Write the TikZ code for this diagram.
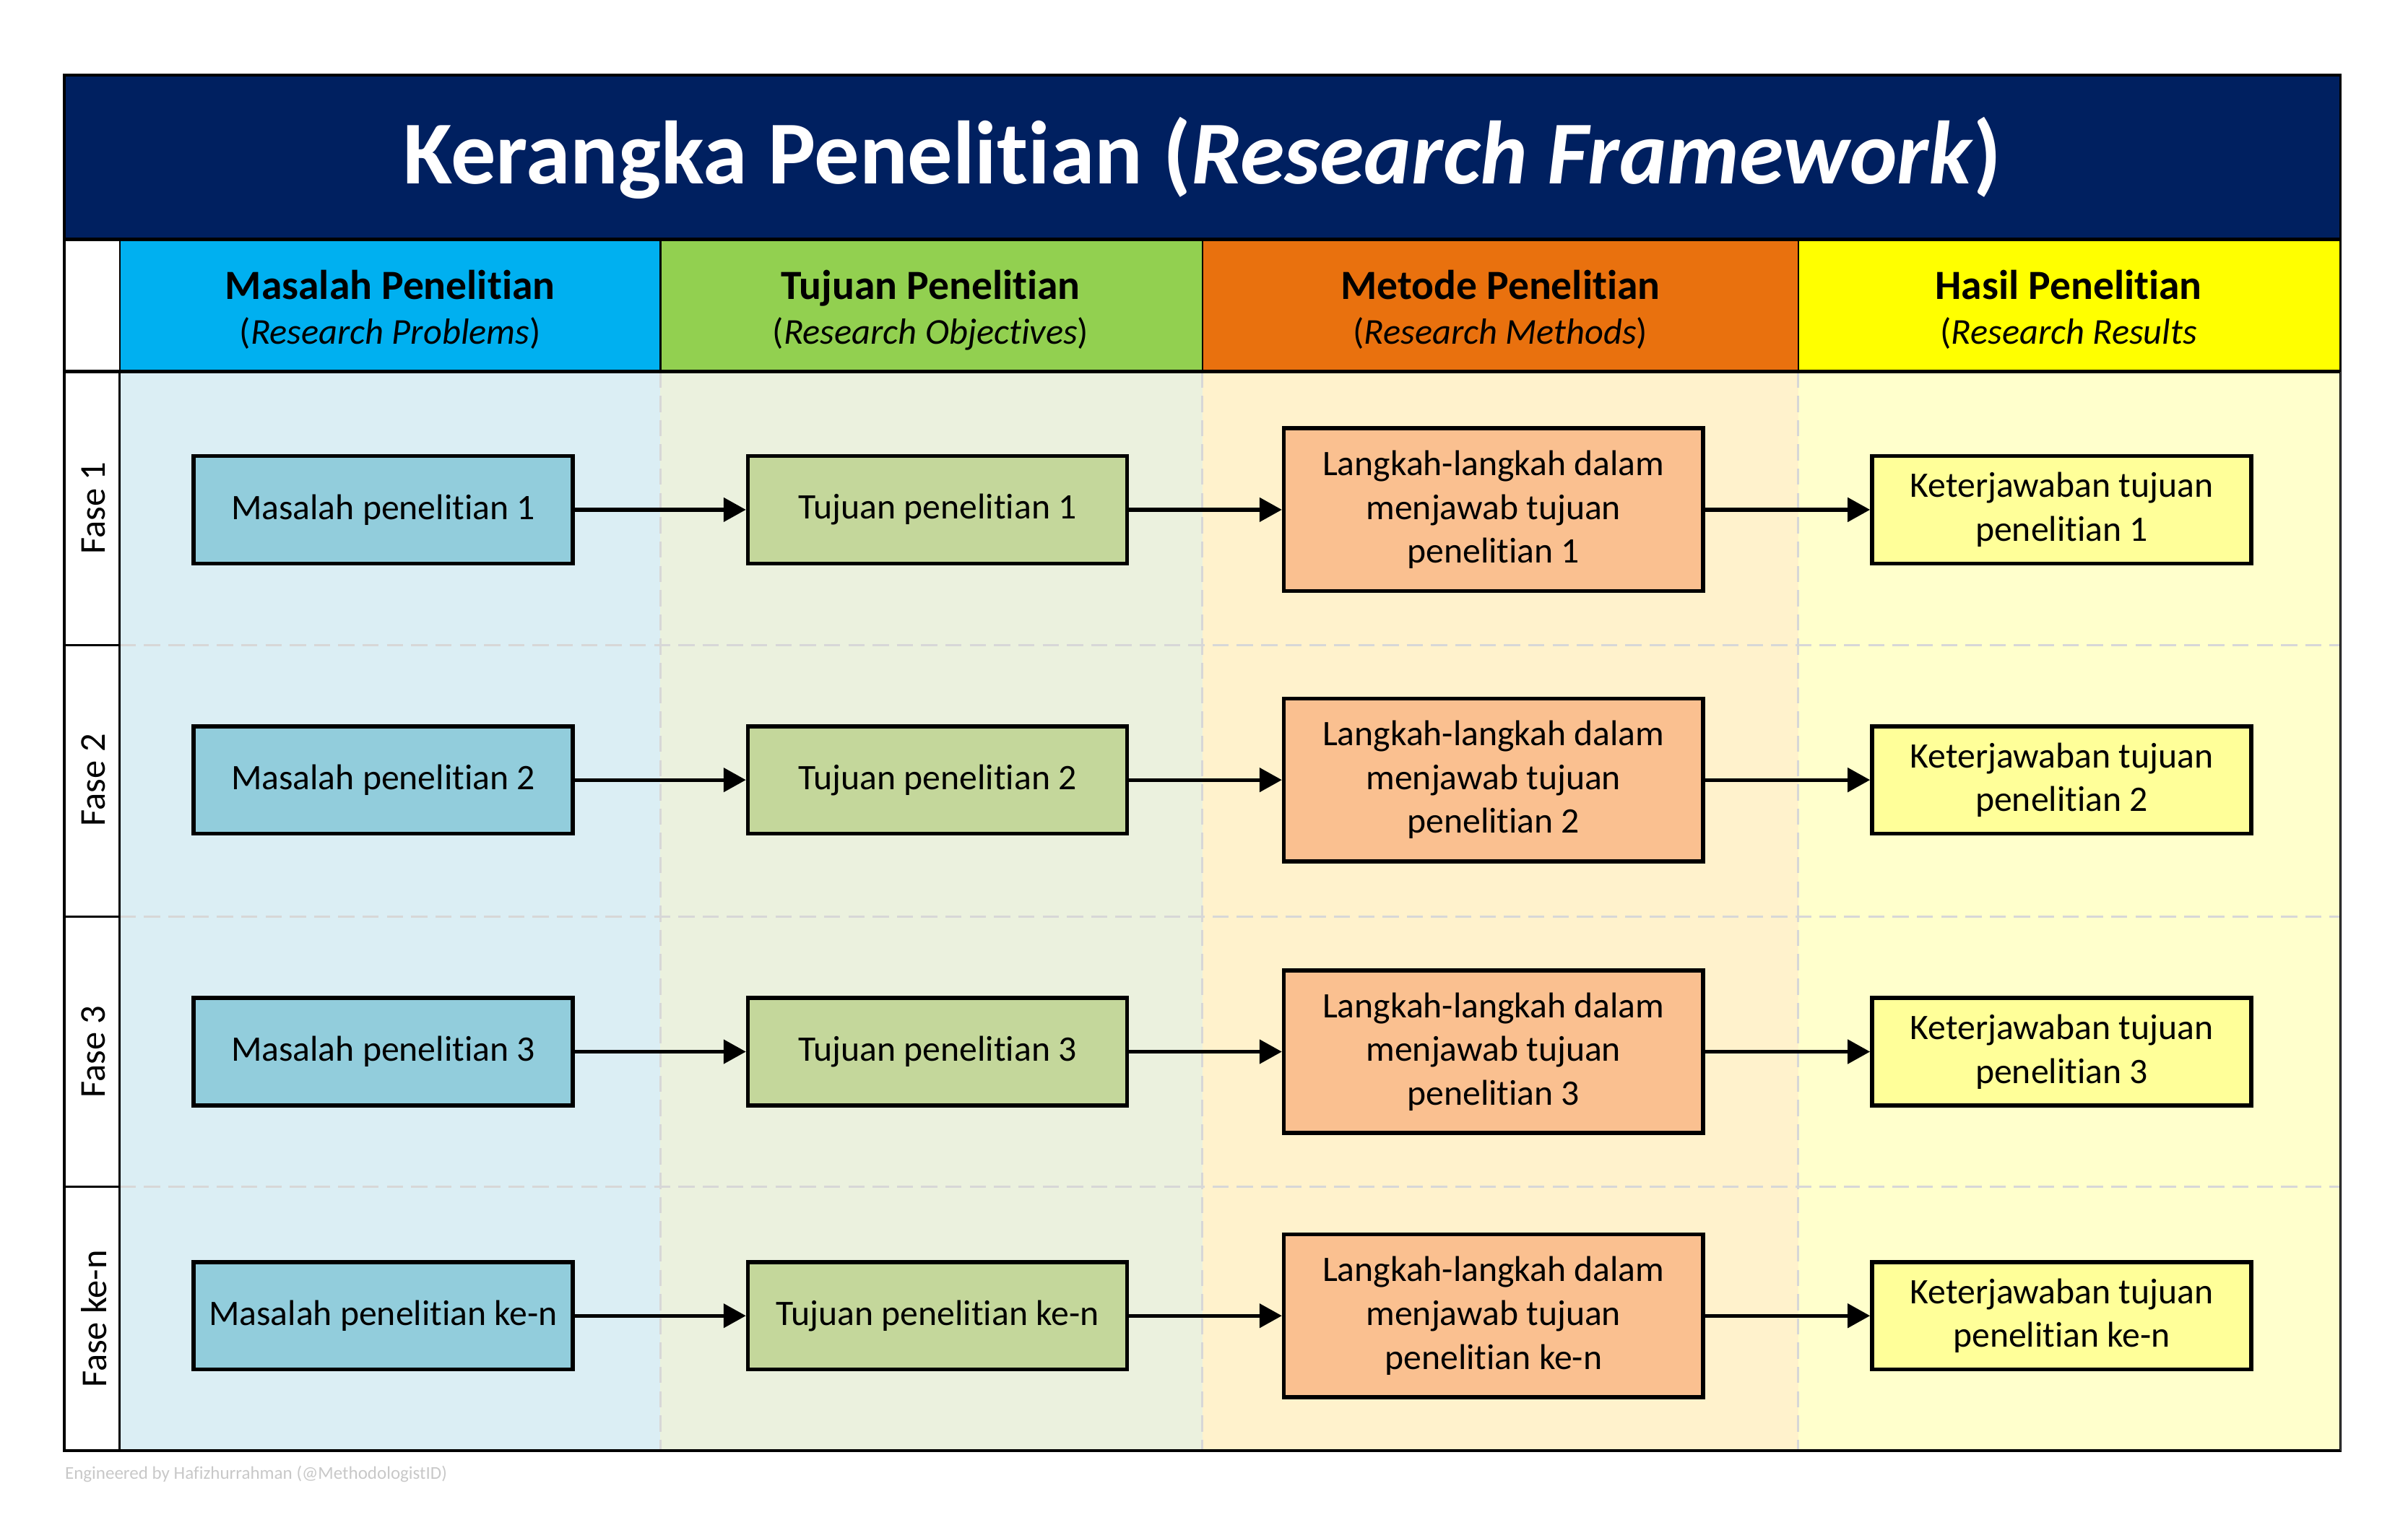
\documentclass[tikz,border=0pt]{standalone}
\usepackage{fontspec}
\setmainfont{Carlito}[Ligatures={NoCommon}]
\usepackage{xcolor}
\definecolor{fwnavy}{RGB}{0,32,96}
\definecolor{hdblue}{RGB}{0,176,240}
\definecolor{hdgreen}{RGB}{146,208,80}
\definecolor{hdorange}{RGB}{233,113,14}
\definecolor{hdyellow}{RGB}{255,255,0}
\definecolor{bgblue}{RGB}{219,238,244}
\definecolor{bggreen}{RGB}{235,241,222}
\definecolor{bgorange}{RGB}{255,242,204}
\definecolor{bgyellow}{RGB}{255,255,204}
\definecolor{bxblue}{RGB}{146,205,220}
\definecolor{bxgreen}{RGB}{196,215,155}
\definecolor{bxorange}{RGB}{250,192,144}
\definecolor{bxyellow}{RGB}{255,255,153}
\definecolor{fwgrid}{RGB}{215,215,215}
\definecolor{fwfoot}{RGB}{200,200,200}
\usetikzlibrary{arrows.meta,positioning}

\begin{document}
\begin{tikzpicture}[x=0.02cm, y=-0.02cm,
  box/.style={rectangle, draw=black, line width=1.5pt, minimum width=4.94cm,
              minimum height=1.4cm, align=center, inner sep=2pt,
              font=\fontsize{13.3}{16.2}\selectfont},
  stepbox/.style={box, minimum width=5.46cm, minimum height=2.12cm},
  hd/.style={anchor=base, font=\fontsize{15.4}{18}\selectfont\bfseries},
  hdsub/.style={anchor=base, font=\fontsize{13.5}{16}\selectfont},
  fase/.style={rotate=90, font=\fontsize{13.5}{16}\selectfont},
  grid/.style={draw=fwgrid, line width=0.8pt, dash pattern=on 6pt off 3pt},
  conn/.style={-{Triangle[length=8.3pt, width=8.8pt]}, line width=1.4pt, draw=black}
]
\useasboundingbox (0,0) rectangle (1568,993);

% column backgrounds
\fill[bgblue]   (78,242) rectangle (430,945);
\fill[bggreen]  (430,242) rectangle (783,945);
\fill[bgorange] (783,242) rectangle (1171,945);
\fill[bgyellow] (1171,242) rectangle (1524,945);

% row and column guides
\draw[grid] (78,420) -- (1524,420);
\draw[grid] (78,597) -- (1524,597);
\draw[grid] (78,773) -- (1524,773);
\draw[grid] (430,242) -- (430,945);
\draw[grid] (783,242) -- (783,945);
\draw[grid] (1171,242) -- (1171,945);

% title band
\fill[fwnavy] (42,49) rectangle (1524,156);
\node[text=white, font=\fontsize{33.3}{40}\selectfont\bfseries] (title) at (783,103)
  {Kerangka Penelitian (\textit{Research Framework})};

% header row
\fill[hdblue]   (78,156) rectangle (430,242);
\fill[hdgreen]  (430,156) rectangle (783,242);
\fill[hdorange] (783,156) rectangle (1171,242);
\fill[hdyellow] (1171,156) rectangle (1524,242);
\draw[line width=0.7pt] (78,156) -- (78,242);
\draw[line width=0.7pt] (430,156) -- (430,242);
\draw[line width=0.7pt] (783,156) -- (783,242);
\draw[line width=0.7pt] (1171,156) -- (1171,242);
\draw[line width=1.3pt] (42,156) -- (1524,156);
\draw[line width=1.3pt] (42,242) -- (1524,242);

\node[hd] (hmasalah) at (254,195) {Masalah Penelitian};
\node[hd] (htujuan)  at (606,195) {Tujuan Penelitian};
\node[hd] (hmetode)  at (977,195) {Metode Penelitian};
\node[hd] (hhasil)   at (1347,195) {Hasil Penelitian};
\node[hdsub] (smasalah) at (254,224) {(\textit{Research Problems})};
\node[hdsub] (stujuan)  at (606,224) {(\textit{Research Objectives})};
\node[hdsub] (smetode)  at (977,224) {(\textit{Research Methods})};
\node[hdsub] (shasil)   at (1347,224) {(\textit{Research Results}};

% phase column
\draw[line width=0.8pt] (42,242) -- (78,242) -- (78,945);
\draw[line width=0.8pt] (42,420) -- (78,420);
\draw[line width=0.8pt] (42,597) -- (78,597);
\draw[line width=0.8pt] (42,773) -- (78,773);
\node[fase] (fase1) at (61,331) {Fase 1};
\node[fase] (fase2) at (61,508) {Fase 2};
\node[fase] (fase3) at (61,685) {Fase 3};
\node[fase] (fasen) at (61,859) {Fase ke-n};

% outer frame
\draw[line width=1pt] (42,49) rectangle (1524,945);
\draw[line width=0.5pt, draw=black!70] (1524,242) -- (1524,945);

% row 1
\node[box, fill=bxblue]   (m1) at (249.5,332) {Masalah penelitian 1};
\node[box, fill=bxgreen]  (t1) at (610.5,332) {Tujuan penelitian 1};
\node[stepbox, fill=bxorange] (l1) at (972.5,332) {Langkah-langkah dalam\\menjawab tujuan\\penelitian 1};
\node[box, fill=bxyellow] (k1) at (1342.5,332) {Keterjawaban tujuan\\penelitian 1};
% row 2
\node[box, fill=bxblue]   (m2) at (249.5,508) {Masalah penelitian 2};
\node[box, fill=bxgreen]  (t2) at (610.5,508) {Tujuan penelitian 2};
\node[stepbox, fill=bxorange] (l2) at (972.5,508) {Langkah-langkah dalam\\menjawab tujuan\\penelitian 2};
\node[box, fill=bxyellow] (k2) at (1342.5,508) {Keterjawaban tujuan\\penelitian 2};
% row 3
\node[box, fill=bxblue]   (m3) at (249.5,685) {Masalah penelitian 3};
\node[box, fill=bxgreen]  (t3) at (610.5,685) {Tujuan penelitian 3};
\node[stepbox, fill=bxorange] (l3) at (972.5,685) {Langkah-langkah dalam\\menjawab tujuan\\penelitian 3};
\node[box, fill=bxyellow] (k3) at (1342.5,685) {Keterjawaban tujuan\\penelitian 3};
% row ke-n
\node[box, fill=bxblue]   (mn) at (249.5,857) {Masalah penelitian ke-n};
\node[box, fill=bxgreen]  (tn) at (610.5,857) {Tujuan penelitian ke-n};
\node[stepbox, fill=bxorange] (ln) at (972.5,857) {Langkah-langkah dalam\\menjawab tujuan\\penelitian ke-n};
\node[box, fill=bxyellow] (kn) at (1342.5,857) {Keterjawaban tujuan\\penelitian ke-n};

% arrows
\draw[conn] (m1) -- (t1);
\draw[conn] (t1) -- (l1);
\draw[conn] (l1) -- (k1);
\draw[conn] (m2) -- (t2);
\draw[conn] (t2) -- (l2);
\draw[conn] (l2) -- (k2);
\draw[conn] (m3) -- (t3);
\draw[conn] (t3) -- (l3);
\draw[conn] (l3) -- (k3);
\draw[conn] (mn) -- (tn);
\draw[conn] (tn) -- (ln);
\draw[conn] (ln) -- (kn);

% credit
\node[anchor=west, inner sep=0pt, text=fwfoot, font=\fontsize{6.7}{8}\selectfont] (credit) at (42,960)
  {Engineered by Hafizhurrahman (@MethodologistID)};
\end{tikzpicture}
\end{document}
